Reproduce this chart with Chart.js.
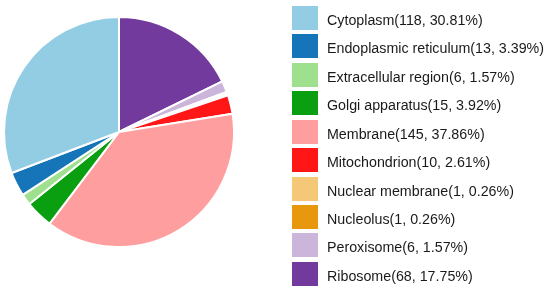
<!DOCTYPE html>
<html>
<head>
<meta charset="utf-8">
<script src="https://cdn.jsdelivr.net/npm/chart.js@4"></script>
<style>
  html, body { margin: 0; padding: 0; background: #fff; }
  #wrap { position: relative; width: 550px; height: 293px; overflow: hidden; }
  #pie { position: absolute; left: 0; top: 0; }
  .row { position: absolute; left: 292px; height: 24px; }
  .box { position: absolute; left: 0; top: 0; width: 26px; height: 24px; }
  .txt {
    position: absolute; left: 35px; top: 0; white-space: nowrap;
    font-family: "Liberation Sans", Arial, sans-serif; font-size: 14.25px;
    line-height: 24px; color: #1a1a1a; transform: translateY(2px);
  }
</style>
</head>
<body>
<div id="wrap">
  <canvas id="pie" width="550" height="293"></canvas>
  <div id="legend"></div>
</div>
<script>
// legend order (alphabetical); pie is drawn clockwise in reverse of this
const categories = ['Cytoplasm', 'Endoplasmic reticulum', 'Extracellular region', 'Golgi apparatus',
    'Membrane', 'Mitochondrion', 'Nuclear membrane', 'Nucleolus', 'Peroxisome', 'Ribosome'];
const counts = [118, 13, 6, 15, 145, 10, 1, 1, 6, 68];
const colors = ['#93cde3', '#1674b8', '#9ee08e', '#0a9f10', '#ff9e9e',
    '#ff1717', '#f5c878', '#e8980f', '#cbb5da', '#733a9e'];

const total = counts.reduce((a, b) => a + b, 0);
const labels = categories.map((c, i) => `${c}(${counts[i]}, ${(counts[i] / total * 100).toFixed(2)}%)`);

// HTML legend on the right
const legend = document.getElementById('legend');
labels.forEach((text, i) => {
    const row = document.createElement('div');
    row.className = 'row';
    row.style.top = (5.8 + i * 28.45) + 'px';
    const box = document.createElement('div');
    box.className = 'box';
    box.style.backgroundColor = colors[i];
    const span = document.createElement('span');
    span.className = 'txt';
    span.textContent = text;
    row.appendChild(box);
    row.appendChild(span);
    legend.appendChild(row);
});

const pieChart = new Chart(document.getElementById('pie'), {
    type: 'pie',
    data: {
        labels: labels.slice().reverse(),
        datasets: [{
            data: counts.slice().reverse(),
            backgroundColor: colors.slice().reverse(),
            borderColor: '#ffffff',
            borderWidth: 2
        }]
    },
    options: {
        responsive: false,
        animation: false,
        devicePixelRatio: 1,
        layout: { padding: { left: 3, right: 315, top: 16, bottom: 45 } },
        plugins: {
            legend: { display: false },
            tooltip: { enabled: false }
        }
    }
});
</script>
</body>
</html>
